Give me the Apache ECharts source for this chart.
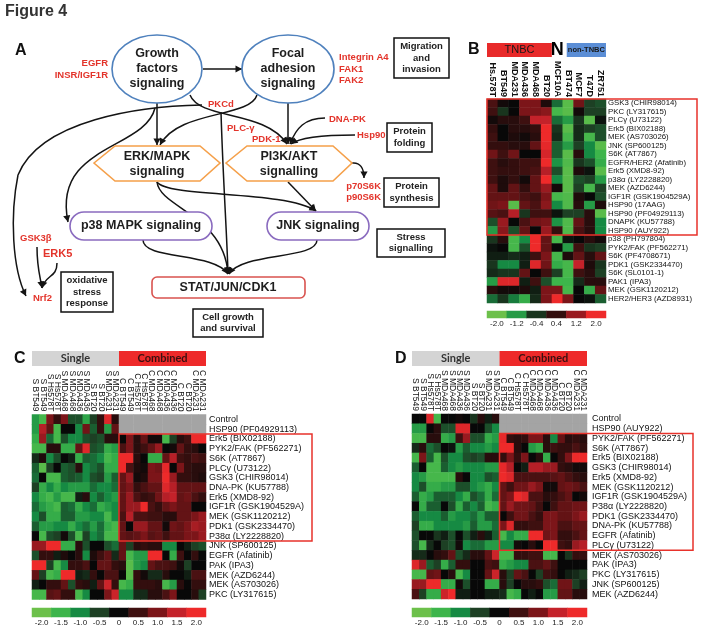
<!DOCTYPE html>
<html><head><meta charset="utf-8">
<script src="https://cdn.jsdelivr.net/npm/echarts@6/dist/echarts.min.js"></script>
<style>html,body{margin:0;padding:0;background:#fff}#c{width:701px;height:633px}</style>
</head><body><div id="c"></div>
<script>
// ---------------- DATA ----------------
const colsB = ['Hs.578T','BT549','MDA231','MDA436','MDA468','BT20','MCF10A','BT474','MCF7','T47D','ZR751'];
const rowsB = ['GSK3 (CHIR98014)','PKC (LY317615)','PLCγ (U73122)','Erk5 (BIX02188)','MEK (AS703026)','JNK (SP600125)','S6K (AT7867)','EGFR/HER2 (Afatinib)','Erk5 (XMD8-92)','p38α (LY2228820)','MEK (AZD6244)','IGF1R (GSK1904529A)','HSP90 (17AAG)','HSP90 (PF04929113)','DNAPK (KU57788)','HSP90 (AUY922)','p38 (PH797804)','PYK2/FAK (PF562271)','S6K (PF4708671)','PDK1 (GSK2334470)','S6K (SL0101-1)','PAK1 (IPA3)','MEK (GSK1120212)','HER2/HER3 (AZD8931)'];
const valsB = [
[0.6,0.1,0,1.0,1.0,0.2,-0.8,-1.8,0.9,-0.5,-0.6],
[0.5,-0.4,0,1.0,1.0,1.1,-1.6,-1.8,0.1,-0.5,-0.5],
[0.1,0.3,0.3,0.5,1.5,1.5,-0.8,-1.2,-0.4,-1.8,-0.1],
[0.4,0,0.3,0.3,0.4,2.0,-0.4,-1.8,-0.3,-0.5,-0.6],
[0.5,0,0.2,0.1,0.3,2.0,-0.3,-1.6,-0.3,-1.6,-0.6],
[0.4,0.4,0.3,0.3,0.8,1.9,-0.7,-1.2,-0.5,-1.0,-1.8],
[0.9,0.5,0.9,0,0,1.7,-0.7,-1.8,0.3,-1.0,-1.5],
[0.5,0.3,0.4,0.5,0.5,2.0,-1.1,-1.7,-0.4,-0.6,-1.4],
[0.5,0.4,0.4,0.5,0.6,1.4,-0.6,-1.8,0.2,-0.1,-1.8],
[0.5,0.2,0.4,0.1,0.8,2.0,-1.0,-1.8,-0.6,-0.5,-1.2],
[0.8,0.2,0.8,0.4,0.8,1.2,0.1,-1.8,-0.5,-1.6,-0.5],
[0.8,0.8,0.8,0.6,0.5,1.0,-1.6,-1.7,0.2,0,-0.6],
[0.9,1.0,-1.8,0.8,0.6,1.1,-1.0,-1.7,0.3,-1.2,0.2],
[0.7,0.6,1.4,-0.4,0.5,0.5,-0.1,-0.5,-0.5,0.3,-1.8],
[-0.6,1.2,0,0.6,0.9,1.0,-1.1,-1.7,0.8,0.3,-1.0],
[-1.2,1.1,-0.6,0.8,0,1.2,0.4,-1.7,0.6,0.3,-1.0],
[-0.4,0.3,-1.6,-1.0,2.0,0.8,-1.6,-0.1,0,0.3,0.1],
[-0.1,0,-1.6,-0.6,2.0,0.8,0,-1.2,0.5,-0.4,-0.5],
[-0.2,-0.2,-0.3,-0.2,0.5,1.0,-1.6,0.2,0.8,0.3,0.8],
[-0.4,-1.0,-1.0,-0.2,1.8,0.9,-1.4,-1.6,1.5,0.2,-0.4],
[-0.3,-0.4,-0.4,0.8,0,0.5,-0.5,-1.6,0.5,0.3,-0.5],
[-1.2,1.8,1.8,-0.2,0.5,-0.6,-1.5,-1.5,-0.3,0.3,0.3],
[0.3,0.1,0.1,0.2,-0.2,1.0,1.0,-1.6,0,-1.4,0.8],
[-0.8,-0.4,-0.9,-1.4,-0.3,1.0,2.0,1.0,0,-0.1,-0.7]
];
const colsCD = ['S BT549','S BT549','S Hs578T','S Hs578T','S MDA468','S MDA468','S MDA436','S MDA436','S BT20','S BT20','S MDA231','S MDA231',
                'C BT549','C BT549','C Hs578T','C Hs578T','C MDA468','C MDA468','C MDA436','C MDA436','C BT20','C BT20','C MDA231','C MDA231'];
const rowsC = ['Control','HSP90 (PF04929113)','Erk5 (BIX02188)','PYK2/FAK (PF562271)','S6K (AT7867)','PLCγ (U73122)','GSK3 (CHIR98014)','DNA-PK (KU57788)','Erk5 (XMD8-92)','IGF1R (GSK1904529A)','MEK (GSK1120212)','PDK1 (GSK2334470)','P38α (LY2228820)','JNK (SP600125)','EGFR (Afatinib)','PAK (IPA3)','MEK (AZD6244)','MEK (AS703026)','PKC (LY317615)'];
const N12 = [null,null,null,null,null,null,null,null,null,null,null,null];
const valsC = [
[-1.2,-1.6,1.0,0.4,1.0,-0.6,-0.6,-1.3,-0.5,0.4,1.8,0.3].concat(N12),
[-1.2,1.4,0.8,-1.6,0,0,-1.0,0.9,-0.7,0.4,-1.2,0.8].concat(N12),
[-1.4,1.2,-0.8,-1.6,-0.6,-1.0,-1.0,-0.6,-0.5,-0.6,0.3,0.3, 0,1.0,0.3,0.8,0.1,0.1,-1.6,-0.5,0.3,0.5,2.0,2.0],
[-1.6,-1.6,0.3,0.3,-1.4,-1.4,0.8,1.8,-0.6,-0.7,-1.4,-1.2, 0.6,1.0,0.3,0.5,0.8,1.2,0,0.1,0.8,0.4,0.3,0],
[-0.3,0.2,-1.0,-0.6,0,-0.2,-1.4,-0.7,-0.8,-1.0,-1.6,-1.4, 2.0,2.0,0.3,0,-1.4,-1.4,0.8,1.4,0.5,0.4,0.6,0.5],
[-0.7,-1.8,-0.5,0,-0.7,-0.6,0.3,-1.0,-0.8,-0.6,-1.4,-1.4, 2.0,0.6,0.2,0.1,1.0,0.9,1.9,0,1.0,0.4,0.3,0.3],
[-0.8,0,-1.6,-1.6,-0.7,-0.6,-0.7,-1.0,-0.6,-0.5,-1.2,-0.7, 0.8,1.2,0.1,0.2,1.0,1.0,2.0,1.2,0.4,0.4,0.3,0.2],
[-0.5,-1.4,-1.0,-1.4,-1.0,-1.2,-1.2,-1.2,-0.8,-1.0,-1.0,-0.8, 0.8,1.0,0.4,0.6,0.8,0.8,1.8,1.4,0.8,0.8,0.8,0.8],
[-1.0,-1.4,-1.6,-1.2,-1.6,-1.6,-0.2,0.3,-1.0,-0.7,-1.0,-1.2, 0.8,1.2,0.6,0.4,0.5,0.9,1.4,1.5,0.8,0.9,0.6,0.4],
[-0.8,-1.2,-1.4,-1.6,-0.7,-0.8,-1.4,-1.0,-0.8,-1.4,-1.2,-1.0, 0.8,1.2,1.2,2.0,0.6,0.4,0.8,1.0,0.8,0.8,0,0],
[-1.0,-0.6,-1.4,-1.4,-0.7,-0.7,-1.2,-1.2,-1.0,-1.0,-1.6,-1.0, 0.6,1.4,0.6,0.6,0.5,0.5,0.3,0.3,0.8,0.8,1.0,1.2],
[-0.7,-1.2,-1.2,-1.0,-1.0,-1.4,-1.0,-0.8,-1.2,-0.8,-1.4,-1.6, 0.8,0,1.2,1.2,0.8,0.8,0.1,0.9,0.8,1.0,1.3,1.2],
[0,-1.6,-0.6,-0.5,0.1,-0.6,-1.6,-0.5,-1.0,-0.8,-1.6,-1.6, 0.8,0.7,0.8,1.0,0.7,0.8,0.5,0.8,0.8,1.0,1.0,1.2],
[1.2,1.2,2.0,2.0,-1.4,-1.4,0.3,-0.6,0,0,-0.6,-0.8, 0.8,-0.5,0.3,0.4,0.3,0.3,-1.0,-1.0,0,-0.2,-0.5,-0.6],
[-0.6,0.4,0.4,-0.2,0.2,0,0.3,-1.0,0.2,0.5,0.8,-0.3, 0.8,-1.6,-1.2,-1.2,2.0,2.0,0,-1.4,0.5,0,0.4,0],
[2.0,2.0,-0.5,-1.6,-1.0,0.4,0.4,0.6,0,0.8,0.8,0.4, 0.3,-1.8,-1.2,-1.0,0.8,0.6,0.6,0.5,0.1,-0.5,0,0],
[0.8,-0.5,-1.6,-1.4,2.0,2.0,-0.2,-0.3,0.4,0,0.6,0.6, 0,-1.8,0.4,0.1,-0.3,-0.3,0.3,0,0,-0.2,0.6,0.6],
[-0.2,0,0.4,0.4,0.8,-0.6,0.4,0.3,-0.2,0.8,1.6,0.4, -1.6,-1.4,0.4,0.4,0.4,0.3,-1.6,-1.2,0.3,0,0.4,0.4],
[-1.6,-1.6,0.7,0.8,0.4,0.4,-1.6,-1.0,0,0,1.0,1.6, -1.0,-1.0,-0.3,-0.3,0.3,0.3,0.6,1.0,0,0,0.3,-0.5]
];
const rowsD = ['Control','HSP90 (AUY922)','PYK2/FAK (PF562271)','S6K (AT7867)','Erk5 (BIX02188)','GSK3 (CHIR98014)','Erk5 (XMD8-92)','MEK (GSK1120212)','IGF1R (GSK1904529A)','P38α (LY2228820)','PDK1 (GSK2334470)','DNA-PK (KU57788)','EGFR (Afatinib)','PLCγ (U73122)','MEK (AS703026)','PAK (IPA3)','PKC (LY317615)','JNK (SP600125)','MEK (AZD6244)'];
const valsD = [
[0,0,1.8,-1.6,0,0,0.1,0,-0.4,0.3,-0.2,0.3].concat(N12),
[-1.2,-1.2,0,0.3,-0.6,-0.6,1.8,1.8,0,0,-0.6,-1.0].concat(N12),
[-1.6,-1.6,0.3,0.3,-1.4,-1.2,0.5,1.2,-0.6,-0.6,-1.4,-1.2, 1.9,0.4,0.3,0.4,1.0,1.0,0.3,-1.0,0.8,0.3,0.4,0.3],
[-0.3,0.3,-0.8,-0.6,0,-0.1,-1.2,-0.7,-1.0,-1.0,-1.2,-1.0, 2.0,2.0,0.3,0,-1.2,-1.4,0.3,0.5,0.4,0.4,0.6,0.4],
[-1.6,1.0,-0.7,-1.6,-0.6,-1.0,-1.0,-0.6,-0.5,-0.6,0.3,0.3, 0.4,1.0,0.4,1.0,0,0.3,-1.4,0,0.4,1.0,2.0,2.0],
[-0.7,0,-1.6,-1.6,-0.7,-1.0,-1.2,-1.0,-1.0,-1.0,-1.2,-1.2, 1.9,1.4,0,-0.2,1.4,1.4,1.2,1.2,0.4,0.3,0.1,0.1],
[-1.0,-1.2,-1.6,-1.6,-1.6,-1.6,0.3,0,-1.0,-1.0,-0.6,-0.7, 2.0,1.8,0.6,0.6,0.6,0.6,0.6,0.7,0.8,0.6,0.4,0.3],
[-1.0,-0.6,-1.4,-1.4,-1.2,-1.2,-0.6,-0.6,-1.0,-1.2,-1.4,-1.0, 0.8,0.5,0.9,0.9,1.2,1.0,0.1,0.1,0.8,0.9,0.8,0.6],
[-0.7,-1.4,-1.2,-0.7,-0.7,-0.7,-1.0,-1.4,-0.6,-0.8,-1.4,-0.8, 0.8,1.0,2.0,1.8,0.6,0.6,0.3,0.4,0.6,0.8,0,0.1],
[0,-1.4,-0.7,-0.7,0,-0.6,-1.4,-0.7,-1.0,-0.7,-1.6,-1.4, 0.8,1.2,0.9,0.9,0.8,0.5,0,0.5,0.8,0.8,0.9,0.9],
[-0.7,-1.0,-1.0,-1.0,-0.7,-1.2,-1.0,-1.0,-0.8,-1.2,-0.7,-0.7, 0,0.5,0.9,0.9,0.6,0.4,1.0,1.0,0.8,0.8,1.0,1.2],
[-0.5,-1.4,-1.4,-1.0,-1.0,-1.0,-1.0,-1.2,-0.7,-1.2,-1.2,-0.8, 1.0,1.8,0.4,0.4,0.5,0.5,1.0,1.0,0.6,0.6,0.8,0.8],
[-0.6,0,0,-0.4,-0.2,-0.6,0,-0.6,-0.2,0.3,-0.2,-0.7, -1.6,-1.0,-1.4,-1.4,2.0,2.0,0.9,1.0,0.4,0.4,0.6,0.8],
[-0.6,-1.6,-0.3,0,-0.5,-0.6,0.1,-1.0,-0.8,-0.8,-1.2,-1.2, -1.0,-1.0,0.1,0,0.3,0,2.0,2.0,0.5,0.4,1.2,1.4],
[-0.3,-0.3,0,0.3,0.4,0.8,-0.6,-0.3,0.3,0.3,0.8,1.6, -1.6,-1.6,0.4,0.4,0.5,0.5,-1.6,-1.6,0,-0.4,0.4,0.4],
[1.8,1.2,-0.7,-0.5,-1.4,-0.7,0.4,0.4,0,0,0.6,0.5, -1.4,-1.2,-1.0,-1.0,0.6,0.6,0.8,0.5,0,0,0,0],
[-1.6,-1.6,0.8,0.9,0,0.3,-1.6,-1.0,0,0,0.8,1.6, 0.3,-0.5,0.8,0.6,0,-0.5,0.5,0.4,0,-0.2,-0.3,-0.5],
[1.2,1.2,2.0,2.0,-1.4,-1.4,0.1,-0.6,0,0,-1.4,-1.4, 0.3,-0.5,0,0.3,0.3,0.4,-0.6,-0.8,0.9,0.9,-0.5,-0.2],
[0.6,-0.5,-1.4,-1.4,1.6,2.0,-0.2,-0.2,0,0,-0.2,-0.2, -0.3,-1.6,-1.4,0,-0.2,0,-1.2,-1.2,0.8,0.8,0.3,0.3]
];
const ticksB = ['-2.0','-1.2','-0.4','0.4','1.2','2.0'];
const ticksCD = ['-2.0','-1.5','-1.0','-0.5','0','0.5','1.0','1.5','2.0'];
const scaleColors = ['#6cc04a','#3db54b','#168a43','#1d4024','#080808','#3e1010','#7c1519','#c4222a','#ee2a2a'];

// ---------------- BUILD ----------------
function toData(m){ const d=[]; m.forEach((r,ri)=>r.forEach((v,ci)=>{ if(v!==null) d.push([ci,ri,v]); })); return d; }
function toGray(m){ const d=[]; m.forEach((r,ri)=>r.forEach((v,ci)=>{ if(v===null) d.push([ci,ri,0]); })); return d; }
const FF = '"Liberation Sans", Arial, sans-serif';
const hide = {axisLine:{show:false}, axisTick:{show:false}, splitLine:{show:false}};
function xTop(gi, data, font){ return Object.assign({type:'category', gridIndex:gi, position:'top', data, axisLabel:Object.assign({interval:0, rotate:90, color:'#111', fontFamily:FF}, font)}, hide); }
function yRight(gi, data, font){ return Object.assign({type:'category', gridIndex:gi, position:'right', inverse:true, data, axisLabel:Object.assign({interval:0, color:'#111', fontFamily:FF}, font)}, hide); }
function xBot(gi, data){ return Object.assign({type:'category', gridIndex:gi, position:'bottom', data, axisLabel:{interval:0, color:'#222', fontFamily:FF, fontSize:8, margin:2}}, hide); }
function yBar(gi){ return Object.assign({type:'category', gridIndex:gi, data:['c'], axisLabel:{show:false}}, hide); }
const heat = (xi, data, extra) => Object.assign({type:'heatmap', xAxisIndex:xi, yAxisIndex:xi, data, emphasis:{disabled:true}, itemStyle:{borderWidth:0}, progressive:0}, extra||{});

const option = {
  animation:false,
  backgroundColor:'#fff',
  grid:[
    {left:487, top:99, width:119, height:204},
    {left:32, top:414.5, width:174, height:185},
    {left:412, top:414, width:175, height:185},
    {left:487, top:311, width:119, height:7},
    {left:32, top:608, width:174, height:9},
    {left:412, top:608, width:175, height:9}
  ],
  xAxis:[
    xTop(0, colsB, {fontSize:9, fontWeight:'bold', margin:2}),
    xTop(1, colsCD, {fontSize:8.5, margin:3}),
    xTop(2, colsCD, {fontSize:8.5, margin:3}),
    xBot(3, ticksB), xBot(4, ticksCD), xBot(5, ticksCD)
  ],
  yAxis:[
    yRight(0, rowsB, {fontSize:7.8, margin:2}),
    yRight(1, rowsC, {fontSize:9, margin:3}),
    yRight(2, rowsD, {fontSize:9, margin:5}),
    yBar(3), yBar(4), yBar(5)
  ],
  visualMap:{type:'continuous', show:false, min:-2, max:2, seriesIndex:[0,1,3,5,6,7], inRange:{color:scaleColors}},
  series:[
    heat(0, toData(valsB)),
    heat(1, toData(valsC)),
    heat(1, toGray(valsC), {itemStyle:{color:'#a4a4a4', borderWidth:0}}),
    heat(2, toData(valsD)),
    heat(2, toGray(valsD), {itemStyle:{color:'#a4a4a4', borderWidth:0}}),
    heat(3, ticksB.map((t,i)=>[i,0,parseFloat(t)])),
    heat(4, ticksCD.map((t,i)=>[i,0,parseFloat(t)])),
    heat(5, ticksCD.map((t,i)=>[i,0,parseFloat(t)]))
  ]
};
const chart = echarts.init(document.getElementById('c'), null, {renderer:'canvas'});
chart.setOption(option);

// ---------------- DIAGRAM & ANNOTATIONS ----------------
const G = [];
const RED = '#e3342b', INK = '#141414';
function txt(x,y,s,o){ o=o||{}; G.push({type:'text', x, y, silent:true, z:10, style:{text:s, fill:o.fill||'#1e1e1e', font:(o.w||'bold')+' '+(o.size||12.5)+'px '+(o.ff||FF), align:o.align||'center', verticalAlign:'middle', lineHeight:o.lh||15}}); }
function rtxt(x,y,s,align,size){ txt(x,y,s,{fill:RED, size:size||9.5, align:align||'left', lh:11.5}); }
function head(x,y,fx,fy){ const dx=x-fx, dy=y-fy, L=Math.hypot(dx,dy)||1, ux=dx/L, uy=dy/L, len=6.5, w=3.6, bx=x-ux*len, by=y-uy*len;
  G.push({type:'polygon', silent:true, z:5, shape:{points:[[x,y],[bx-uy*w,by+ux*w],[bx+uy*w,by-ux*w]]}, style:{fill:INK}}); }
function curve(p, arrow){ const [x1,y1,c1x,c1y,c2x,c2y,x2,y2]=p;
  G.push({type:'bezierCurve', silent:true, z:4, shape:{x1,y1,cpx1:c1x,cpy1:c1y,cpx2:c2x,cpy2:c2y,x2,y2}, style:{stroke:INK, lineWidth:1.5, fill:null}});
  if(arrow!==false) head(x2,y2,c2x,c2y); }
function line(x1,y1,x2,y2,arrow){ G.push({type:'line', silent:true, z:4, shape:{x1,y1,x2,y2}, style:{stroke:INK, lineWidth:1.5}}); if(arrow!==false) head(x2,y2,x1,y1); }
function box(x,y,w,h,s,cx,cy){ G.push({type:'rect', silent:true, z:6, shape:{x,y,width:w,height:h}, style:{fill:'#fff', stroke:'#111', lineWidth:1.5}}); txt(x+w/2, y+h/2, s, {size:9.5, lh:11.5, fill:'#222'}); }

// titles
txt(5,12,'Figure 4',{size:16, align:'left', fill:'#333'});
txt(15,51,'A',{size:16, align:'left', fill:'#111'});
txt(468,50,'B',{size:16, align:'left', fill:'#111'});
txt(14,359,'C',{size:16, align:'left', fill:'#111'});
txt(395,359,'D',{size:16, align:'left', fill:'#111'});

// connections
line(203,69,242,69);
line(157,103,157,145);
line(288,103,288,144);
curve([190,95, 200,120, 265,110, 287,144]);
curve([257,95, 250,118, 178,110, 160,145]);
curve([202,105, 140,106, 40,120, 18,175], false);
curve([18,175, 10,215, 12,268, 26,296]);
curve([155,108, 145,150, 52,145, 68,222]);
curve([221,112, 223,180, 227,235, 228,274]);
curve([157,182, 160,208, 224,215, 228,274]);
curve([157,182, 168,198, 285,190, 316,211]);
line(288,182,316,211);
curve([143,240, 143,260, 214,252, 228,274]);
curve([317,240, 317,260, 242,252, 229,274]);
curve([352,163, 360,162, 364,168, 364,178]);
curve([325,118, 305,118, 296,128, 290,144]);
curve([355,135, 325,135, 300,137, 291,144]);
curve([37,247, 37,268, 40,276, 42,288]);
curve([57,263, 57,278, 46,274, 42,288]);

// shapes
G.push({type:'ellipse', silent:true, z:6, shape:{cx:157,cy:69,rx:45,ry:34}, style:{fill:'#fff', stroke:'#4f81bd', lineWidth:1.6}});
G.push({type:'ellipse', silent:true, z:6, shape:{cx:288,cy:69,rx:46,ry:34}, style:{fill:'#fff', stroke:'#4f81bd', lineWidth:1.6}});
G.push({type:'polygon', silent:true, z:6, shape:{points:[[94,163],[115,146],[200,146],[220,163],[200,181],[115,181]]}, style:{fill:'#fff', stroke:'#f5a04a', lineWidth:1.6}});
G.push({type:'polygon', silent:true, z:6, shape:{points:[[226,163],[247,146],[333,146],[352,163],[333,181],[247,181]]}, style:{fill:'#fff', stroke:'#f5a04a', lineWidth:1.6}});
G.push({type:'rect', silent:true, z:6, shape:{x:70,y:212,width:142,height:28,r:14}, style:{fill:'#fff', stroke:'#8a6bbf', lineWidth:1.6}});
G.push({type:'rect', silent:true, z:6, shape:{x:267,y:212,width:102,height:28,r:14}, style:{fill:'#fff', stroke:'#8a6bbf', lineWidth:1.6}});
G.push({type:'rect', silent:true, z:6, shape:{x:152,y:277,width:153,height:21,r:5}, style:{fill:'#fff', stroke:'#d9534f', lineWidth:1.6}});
txt(157,69,'Growth\nfactors\nsignaling');
txt(288,69,'Focal\nadhesion\nsignaling');
txt(157,164,'ERK/MAPK\nsignaling');
txt(289,164,'PI3K/AKT\nsignalling');
txt(141,226,'p38 MAPK signaling');
txt(318,226,'JNK signaling');
txt(228,288,'STAT/JUN/CDK1');

box(394,38,55,40,'Migration\nand\ninvasion');
box(387,123,45,29,'Protein\nfolding');
box(384,178,55,29,'Protein\nsynthesis');
box(377,229,68,28,'Stress\nsignalling');
box(61,272,52,40,'oxidative\nstress\nresponse');
box(193,309,70,28,'Cell growth\nand survival');

rtxt(108,63,'EGFR','right'); rtxt(108,75,'INSR/IGF1R','right');
rtxt(339,69,'Integrin A4\nFAK1\nFAK2','left');
rtxt(208,104,'PKCd'); rtxt(227,128,'PLC-γ'); rtxt(252,139,'PDK-1');
rtxt(329,119,'DNA-PK'); rtxt(357,135,'Hsp90');
rtxt(381,192,'p70S6K\np90S6K','right');
rtxt(20,238,'GSK3β'); rtxt(43,254,'ERK5','left',11); rtxt(33,298,'Nrf2');

// heatmap annotations from axis pixels
function cellBox(gi, c0, c1, r0, r1){
  const a = chart.convertToPixel({gridIndex:gi},[c0,r0]);
  const b = chart.convertToPixel({gridIndex:gi},[c1,r1]);
  const n = chart.convertToPixel({gridIndex:gi},[c0+1,r0+1]);
  const bw = n[0]-a[0], bh = n[1]-a[1];
  return {x:a[0]-bw/2, y:a[1]-bh/2, w:b[0]-a[0]+bw, h:b[1]-a[1]+bh};
}
function redBox(gi,c0,c1,r0,r1,extra){ const b=cellBox(gi,c0,c1,r0,r1);
  G.push({type:'rect', silent:true, z:20, shape:{x:b.x, y:b.y, width:b.w+extra, height:b.h}, style:{fill:null, stroke:'#e8322b', lineWidth:1.5}}); }
function hdr(gi,c0,c1,y,h,color,label,font,fill){ const b=cellBox(gi,c0,c1,0,0);
  G.push({type:'rect', silent:true, z:8, shape:{x:b.x, y, width:b.w, height:h}, style:{fill:color}});
  if(label) G.push({type:'text', silent:true, z:9, x:b.x+b.w/2, y:y+h/2, style:{text:label, fill:fill||'#222', font, align:'center', verticalAlign:'middle'}}); }

redBox(0,0,10,0,15,91);
redBox(1,12,23,2,12,106);
redBox(2,12,23,2,13,106);

hdr(0,0,5,43,14,'#e82a2a','TNBC','11px '+FF,'#1a1a1a');
hdr(0,6,6,43,14,'#ffffff','N','bold 18px '+FF,'#000');
(function(){ const b=cellBox(0,7,10,0,0); G.push({type:'rect', silent:true, z:8, shape:{x:b.x+4, y:43, width:b.w-4, height:14}, style:{fill:'#5b8ed6'}});
  G.push({type:'text', silent:true, z:9, x:b.x+4+(b.w-4)/2, y:50, style:{text:'non-TNBC', fill:'#1a1a1a', font:'bold 7.5px '+FF, align:'center', verticalAlign:'middle'}}); })();
const LF = 'bold 11px Lato, "Open Sans", sans-serif';
hdr(1,0,11,351,15,'#d4d4d4','Single',LF,'#333');
hdr(1,12,23,351,15,'#ee2a2a','Combined',LF,'#3a1010');
hdr(2,0,11,351,15,'#d4d4d4','Single',LF,'#333');
hdr(2,12,23,351,15,'#ee2a2a','Combined',LF,'#3a1010');

chart.setOption({graphic:{elements:G}});
</script>
</body></html>
